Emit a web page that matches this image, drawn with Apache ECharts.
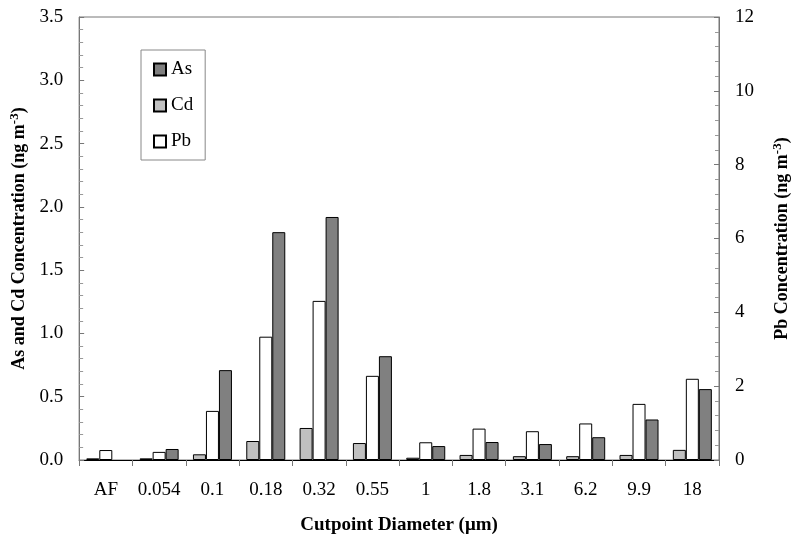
<!DOCTYPE html>
<html>
<head>
<meta charset="utf-8">
<script src="https://cdn.jsdelivr.net/npm/echarts@6/dist/echarts.min.js"></script>
<style>html,body{margin:0;padding:0;background:#fff}#c{width:800px;height:544px}</style>
</head>
<body>
<div id="c"></div>
<script>
var categories = ['AF', '0.054', '0.1', '0.18', '0.32', '0.55', '1', '1.8', '3.1', '6.2', '9.9', '18'];
var asValues = [null, 0.087, 0.71, 1.80, 1.92, 0.82, 0.11, 0.142, 0.126, 0.18, 0.32, 0.56];
var cdValues = [0.013, 0.013, 0.045, 0.15, 0.253, 0.134, 0.018, 0.04, 0.03, 0.03, 0.04, 0.08];
var pbValues = [0.27, 0.22, 1.33, 3.34, 4.31, 2.28, 0.48, 0.85, 0.78, 0.99, 1.52, 2.2];

var serif = 'Liberation Serif';
var chart = echarts.init(document.getElementById('c'));
var barStyle = function (c) { return { color: c, borderColor: '#000', borderWidth: 1 }; };
var nameRich = {
  n: { fontFamily: serif, fontSize: 18, fontWeight: 'bold', color: '#000' },
  s: { fontFamily: serif, fontSize: 13, fontWeight: 'bold', color: '#000', verticalAlign: 'top', padding: [0, 0, 10, 0] }
};
chart.setOption({
  animation: false,
  textStyle: { fontFamily: serif },
  grid: { left: 79, right: 81, top: 17, bottom: 84, show: true, borderColor: '#777', borderWidth: 1 },
  legend: {
    orient: 'vertical', left: 141, top: 50,
    data: ['As', 'Cd', 'Pb'],
    icon: 'rect',
    borderColor: '#888', borderWidth: 1,
    padding: [10, 12, 9, 12],
    itemGap: 17, itemWidth: 12, itemHeight: 12,
    textStyle: { fontFamily: serif, fontSize: 19, color: '#000' }
  },
  xAxis: {
    type: 'category', data: categories,
    boundaryGap: true,
    axisLine: { lineStyle: { color: '#000' } },
    axisTick: { show: true, length: 6, lineStyle: { color: '#777' } },
    axisLabel: { interval: 0, fontFamily: serif, fontSize: 19, color: '#000', margin: 21 },
    name: 'Cutpoint Diameter (\u03bcm)', nameLocation: 'middle', nameGap: 56,
    nameTextStyle: { fontFamily: serif, fontSize: 19, fontWeight: 'bold', color: '#000' }
  },
  yAxis: [{
    type: 'value', min: 0, max: 3.5, interval: 0.5,
    axisLine: { show: true, lineStyle: { color: '#777' } },
    axisTick: { show: true, inside: true, length: 5, lineStyle: { color: '#777' } },
    minorTick: { show: true, splitNumber: 5, length: 4, lineStyle: { color: '#999' } },
    splitLine: { show: false },
    axisLabel: { fontFamily: serif, fontSize: 19, color: '#000', margin: 16, formatter: function (v) { return v.toFixed(1); } },
    name: '{n|As and Cd Concentration (ng m}{s|-3}{n|)}', nameLocation: 'middle', nameGap: 43,
    nameTextStyle: { rich: nameRich }
  }, {
    type: 'value', min: 0, max: 12, interval: 2, position: 'right',
    axisLine: { show: true, lineStyle: { color: '#777' } },
    axisTick: { show: true, inside: true, length: 5, lineStyle: { color: '#777' } },
    minorTick: { show: true, splitNumber: 5, length: 4, lineStyle: { color: '#999' } },
    splitLine: { show: false },
    axisLabel: { fontFamily: serif, fontSize: 19, color: '#000', margin: 16 },
    name: '{n|Pb Concentration (ng m}{s|-3}{n|)}', nameLocation: 'middle', nameGap: 52, nameRotate: 90,
    nameTextStyle: { rich: nameRich }
  }],
  series: [
    { name: 'Cd', type: 'bar', yAxisIndex: 0, data: cdValues, barWidth: 13, barGap: '0%', itemStyle: barStyle('#c0c0c0') },
    { name: 'Pb', type: 'bar', yAxisIndex: 1, data: pbValues, barWidth: 13, barGap: '0%', itemStyle: barStyle('#ffffff') },
    { name: 'As', type: 'bar', yAxisIndex: 0, data: asValues, barWidth: 13, barGap: '0%', itemStyle: barStyle('#808080') }
  ]
});
</script>
</body>
</html>
